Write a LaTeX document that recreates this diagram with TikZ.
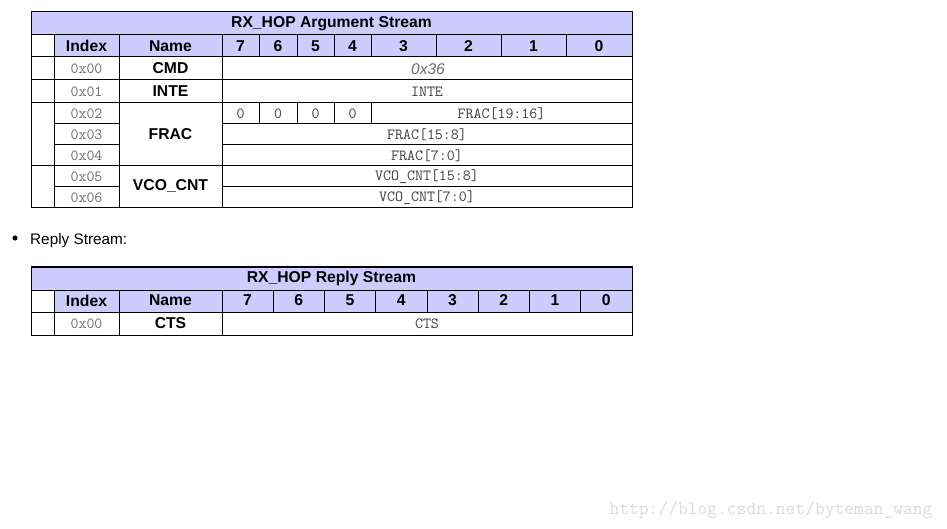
\documentclass[tikz,border=0pt]{standalone}
\usepackage{fontspec}
\setmainfont{Liberation Sans}
\definecolor{headfill}{HTML}{CCCCFF}
\definecolor{valgray}{HTML}{3C3C3C}
\definecolor{idxgray}{HTML}{6A6A6A}
\definecolor{markgray}{HTML}{DCDCD5}
\tikzset{
  grid/.style={draw=black, line width=1pt},
  head/.style={font=\fontsize{15.7}{17}\selectfont\bfseries},
  val/.style={font=\fontsize{15.5}{17}\selectfont\ttfamily, text=valgray},
  idx/.style={font=\fontsize{15.5}{17}\selectfont\ttfamily, text=idxgray},
  hexval/.style={font=\fontsize{15.5}{17}\selectfont\itshape, text=idxgray},
}
\begin{document}
\begin{tikzpicture}[x=1pt,y=-1pt]
  \useasboundingbox (0,0) rectangle (947,529);
  % argument stream
  \fill[headfill] (31,12) rectangle (632,35);
  \fill[headfill] (54,35) rectangle (632,57);
  \begin{scope}[grid]
    \draw (31,12) rectangle (632,208);
    \draw (31,35) -- (632,35);
    \draw (31,57) -- (632,57);
    \draw (31,80) -- (632,80);
    \draw (31,103) -- (632,103);
    \draw (54,124) -- (119,124) (222,124) -- (632,124);
    \draw (54,145) -- (119,145) (222,145) -- (632,145);
    \draw (31,166) -- (632,166);
    \draw (54,187) -- (119,187) (222,187) -- (632,187);
    \draw (54,35) -- (54,208);
    \draw (119,35) -- (119,208);
    \draw (222,35) -- (222,208);
    \foreach \x in {259,297,334,371}
      \draw (\x,35) -- (\x,57) (\x,103) -- (\x,124);
    \foreach \x in {436,501,566}
      \draw (\x,35) -- (\x,57);
  \end{scope}
  \node[head] (argtitle) at (331.5,23.5) {RX\_HOP Argument Stream};
  \node[head] (argindex) at (86.5,46) {Index};
  \node[head] (argname) at (170.5,46) {Name};
  \foreach \b/\x in {7/240.5,6/278,5/315.5,4/352.5,3/403.5,2/468.5,1/533.5,0/599}
    \node[head] (argbit\b) at (\x,46) {\b};
  \node[idx] (idx0) at (86.5,69) {0x00};
  \node[idx] (idx1) at (86.5,92) {0x01};
  \node[idx] (idx2) at (86.5,114) {0x02};
  \node[idx] (idx3) at (86.5,135) {0x03};
  \node[idx] (idx4) at (86.5,156) {0x04};
  \node[idx] (idx5) at (86.5,177) {0x05};
  \node[idx] (idx6) at (86.5,198) {0x06};
  \node[head] (cmd) at (170.5,68) {CMD};
  \node[head] (inte) at (170.5,91) {INTE};
  \node[head] (frac) at (170.5,134) {FRAC};
  \node[head] (vcocnt) at (170.5,186) {VCO\_CNT};
  \node[hexval] (cmdval) at (428,69) {0x36};
  \node[val] (inteval) at (427,92) {INTE};
  \foreach \x [count=\i] in {240.5,278,315.5,352.5}
    \node[val] (zero\i) at (\x,114) {0};
  \node[val] (frachi) at (501.5,114) {FRAC[19:16]};
  \node[val] (fracmid) at (427,135) {FRAC[15:8]};
  \node[val] (fraclo) at (427,156) {FRAC[7:0]};
  \node[val] (vcohi) at (427,177) {VCO\_CNT[15:8]};
  \node[val] (vcolo) at (427,198) {VCO\_CNT[7:0]};
  % bullet line
  \fill (15,238) circle (2.6);
  \node[anchor=base west, font=\fontsize{15.3}{17}\selectfont, inner sep=0pt] (reply) at (30,244) {Reply Stream:};
  % reply stream
  \fill[headfill] (31,267) rectangle (632,290);
  \fill[headfill] (54,290) rectangle (632,312);
  \begin{scope}[grid]
    \draw (31,267) rectangle (632,335);
    \draw (31,290) -- (632,290);
    \draw (31,312) -- (632,312);
    \foreach \x in {54,119,222}
      \draw (\x,290) -- (\x,335);
    \foreach \i in {1,...,7}
      \draw ({222+51.25*\i},290) -- ({222+51.25*\i},312);
  \end{scope}
  \node[head] (reptitle) at (331.5,278) {RX\_HOP Reply Stream};
  \node[head] (repindex) at (86.5,300.5) {Index};
  \node[head] (repname) at (170.5,300.5) {Name};
  \foreach \b [count=\i from 0] in {7,6,5,4,3,2,1,0}
    \node[head] (repbit\b) at ({222+51.25*\i+25.6},300.5) {\b};
  \node[idx] (repidx0) at (86.5,324) {0x00};
  \node[head] (cts) at (170.5,323) {CTS};
  \node[val] (ctsval) at (427,324) {CTS};
  % watermark
  \node[font=\fontsize{19}{20}\selectfont\ttfamily, text=markgray] (mark) at (771,510) {http://blog.csdn.net/byteman\_wang};
\end{tikzpicture}
\end{document}
